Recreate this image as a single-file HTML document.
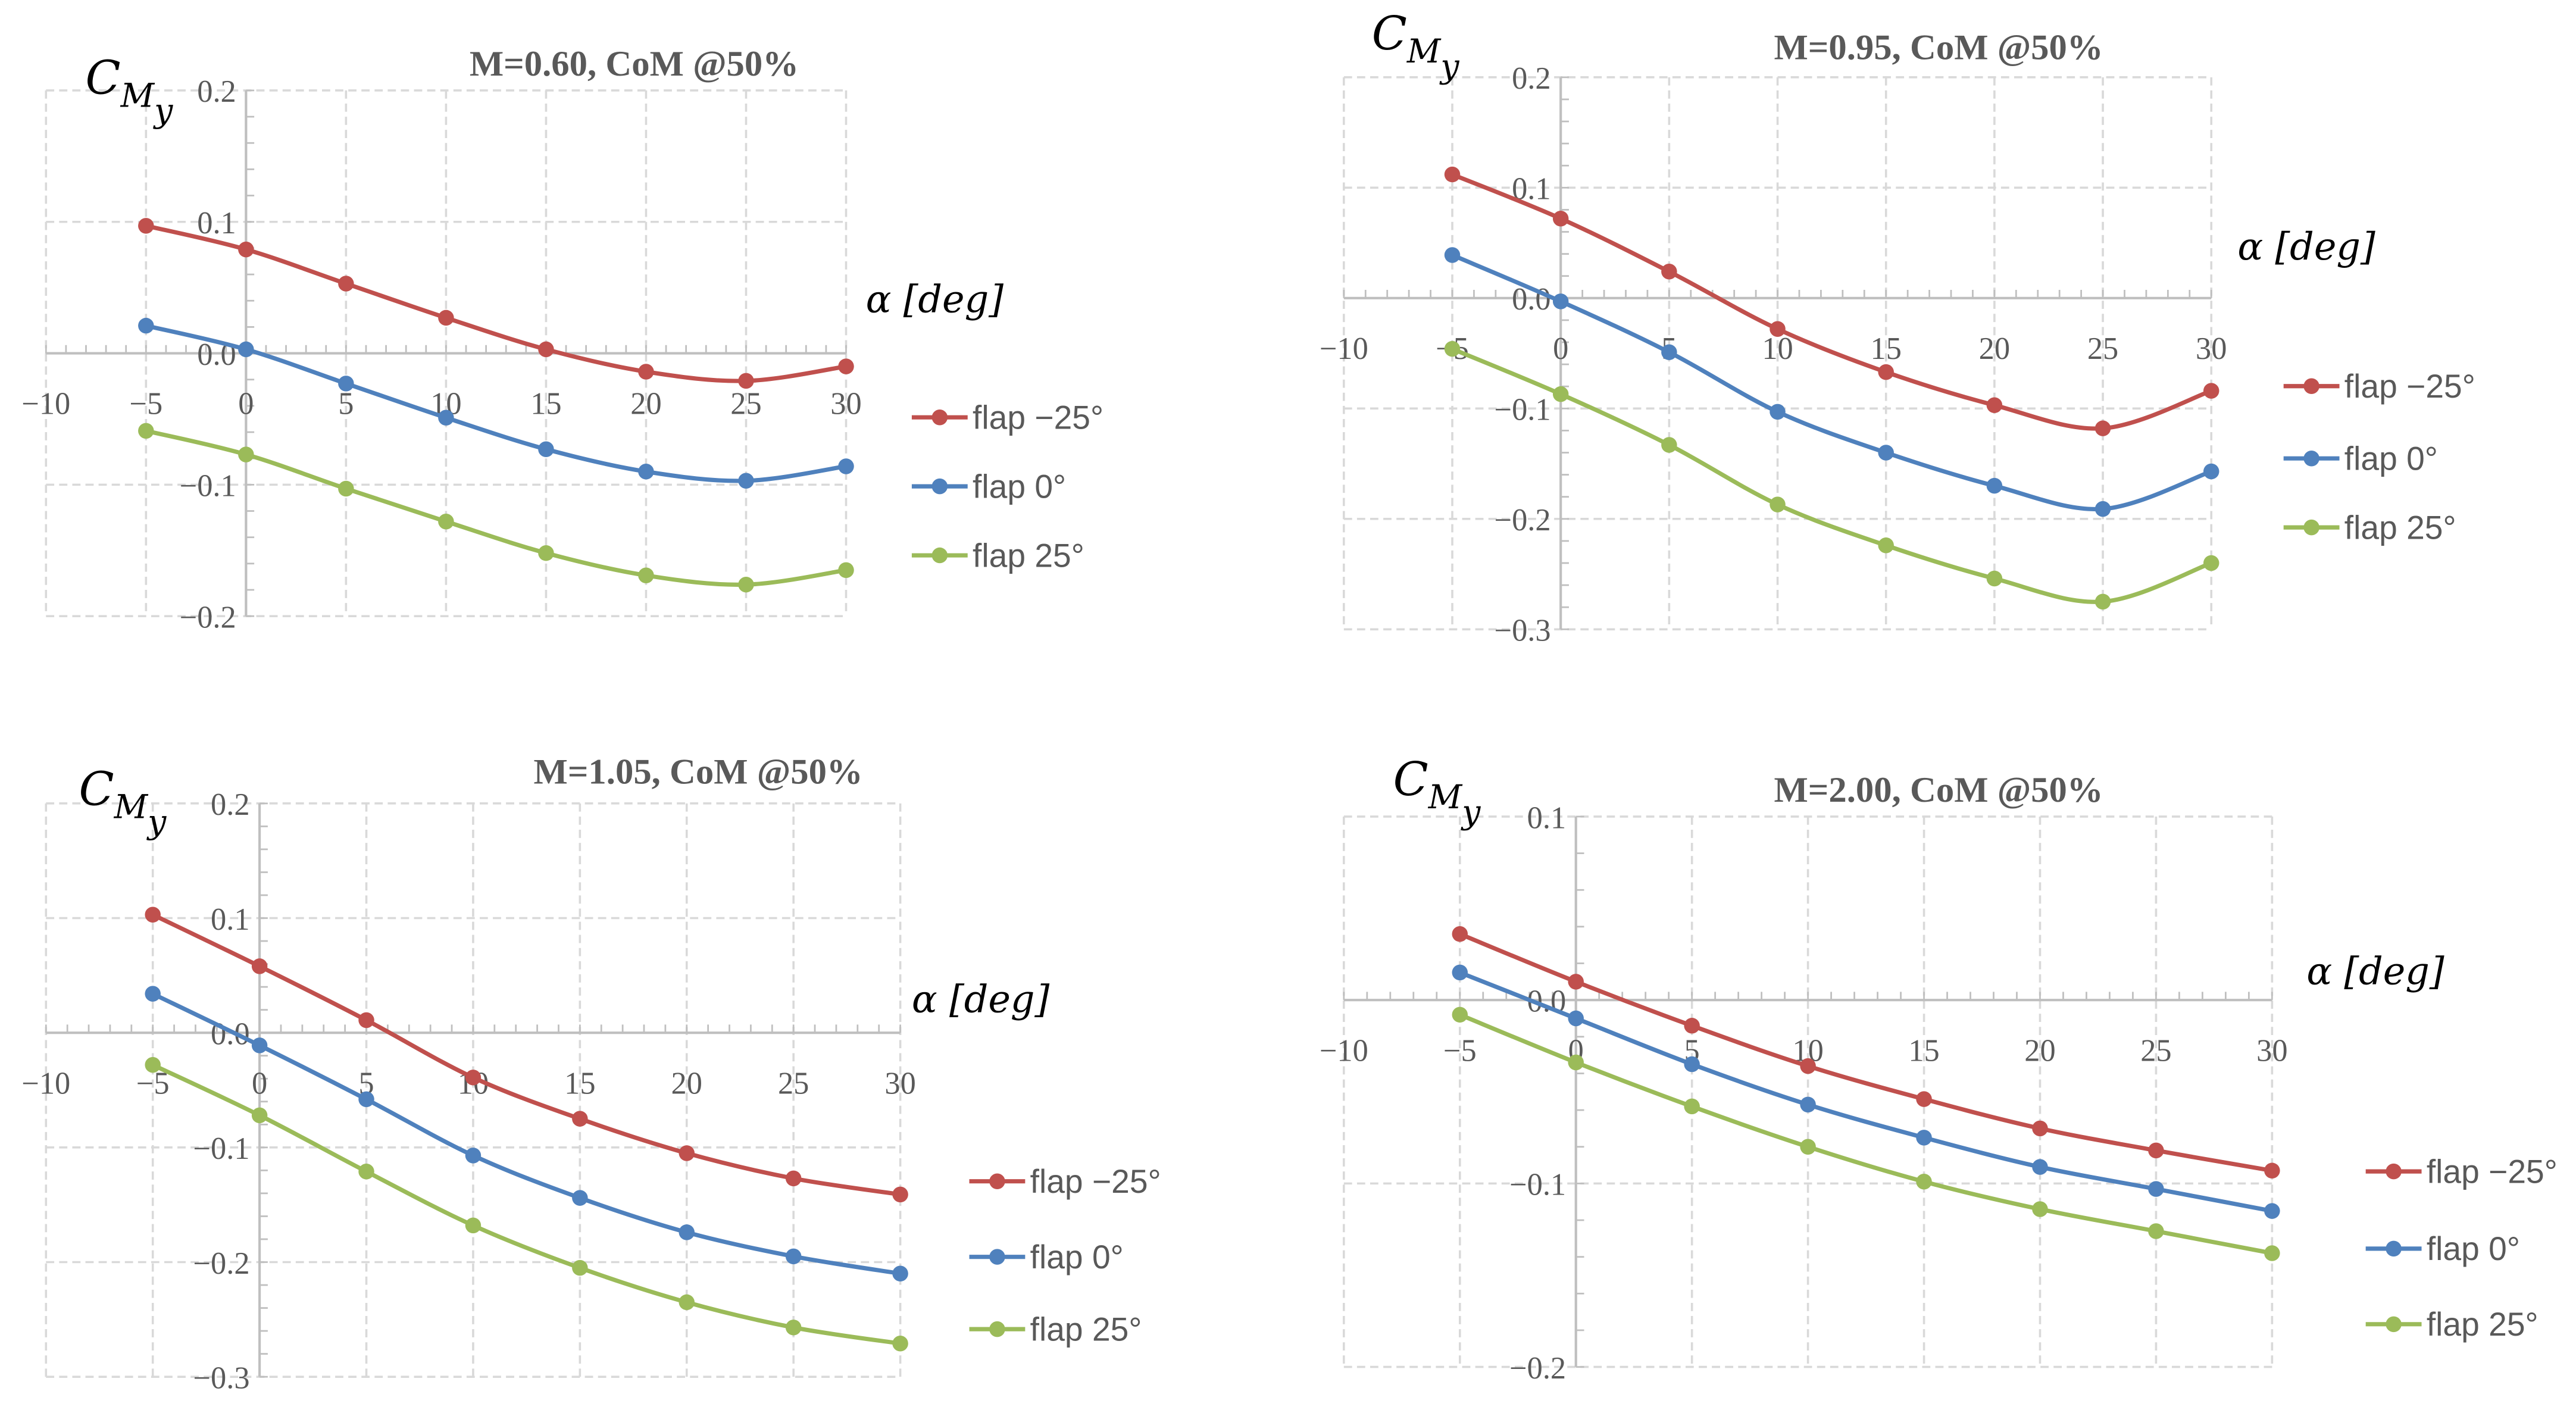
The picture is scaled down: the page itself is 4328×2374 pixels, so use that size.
<!DOCTYPE html>
<html><head><meta charset="utf-8"><style>
html,body{margin:0;padding:0;background:#fff;}
svg{display:block;}
</style></head><body>
<svg id="chart" width="4328" height="2374" viewBox="0 0 1568 860" xmlns="http://www.w3.org/2000/svg"></svg>
<script>
const alphas = [-5, 0, 5, 10, 15, 20, 25, 30];
const xTicks = [-10, -5, 0, 5, 10, 15, 20, 25, 30];
const seriesNames = ["flap \u221225\u00b0", "flap 0\u00b0", "flap 25\u00b0"];
const titles = ["M=0.60, CoM @50%", "M=0.95, CoM @50%", "M=1.05, CoM @50%", "M=2.00, CoM @50%"];
const yTicks1 = [0.2, 0.1, 0.0, -0.1, -0.2];
const yTicks2 = [0.2, 0.1, 0.0, -0.1, -0.2, -0.3];
const yTicks3 = [0.2, 0.1, 0.0, -0.1, -0.2, -0.3];
const yTicks4 = [0.1, 0.0, -0.1, -0.2];
const p1Red = [0.097, 0.079, 0.053, 0.027, 0.003, -0.014, -0.021, -0.010];
const p1Blue = [0.021, 0.003, -0.023, -0.049, -0.073, -0.090, -0.097, -0.086];
const p1Green = [-0.059, -0.077, -0.103, -0.128, -0.152, -0.169, -0.176, -0.165];
const p2Red = [0.112, 0.072, 0.024, -0.028, -0.067, -0.097, -0.118, -0.084];
const p2Blue = [0.039, -0.003, -0.049, -0.103, -0.140, -0.170, -0.191, -0.157];
const p2Green = [-0.046, -0.087, -0.133, -0.187, -0.224, -0.254, -0.275, -0.240];
const p3Red = [0.103, 0.058, 0.011, -0.039, -0.075, -0.105, -0.127, -0.141];
const p3Blue = [0.034, -0.011, -0.058, -0.107, -0.144, -0.174, -0.195, -0.210];
const p3Green = [-0.028, -0.072, -0.121, -0.168, -0.205, -0.235, -0.257, -0.271];
const p4Red = [0.036, 0.010, -0.014, -0.036, -0.054, -0.070, -0.082, -0.093];
const p4Blue = [0.015, -0.010, -0.035, -0.057, -0.075, -0.091, -0.103, -0.115];
const p4Green = [-0.008, -0.034, -0.058, -0.080, -0.099, -0.114, -0.126, -0.138];

const NS = "http://www.w3.org/2000/svg";
const svg = document.getElementById("chart");
const COLORS = ["#c0504d", "#4f81bd", "#9bbb59"];
function mk(tag, attrs, parent) {
  const e = document.createElementNS(NS, tag);
  for (const k in attrs) e.setAttribute(k, attrs[k]);
  parent.appendChild(e);
  return e;
}
function smoothPath(pts) {
  let d = "M" + pts[0][0] + "," + pts[0][1];
  for (let i = 0; i < pts.length - 1; i++) {
    const p0 = pts[i - 1] || pts[i], p1 = pts[i], p2 = pts[i + 1], p3 = pts[i + 2] || p2;
    const c1x = p1[0] + (p2[0] - p0[0]) / 6, c1y = p1[1] + (p2[1] - p0[1]) / 6;
    const c2x = p2[0] - (p3[0] - p1[0]) / 6, c2y = p2[1] - (p3[1] - p1[1]) / 6;
    d += " C" + c1x + "," + c1y + " " + c2x + "," + c2y + " " + p2[0] + "," + p2[1];
  }
  return d;
}
function drawPanel(cfg, idx) {
  const g = mk("g", {}, svg);
  
  
  const xs = v => cfg.x0 + (v - (-10)) / 40 * (cfg.x1 - cfg.x0);
  const yMax = cfg.yTicks[0], yMin = cfg.yTicks[cfg.yTicks.length - 1];
  const ys = v => cfg.yTop + (yMax - v) / (yMax - yMin) * (cfg.yBot - cfg.yTop);
  cfg.yTicks.forEach(t => {
    const gl = mk("line", {x1: cfg.x0, x2: cfg.x1, y1: ys(t), y2: ys(t), stroke: "#d9d9d9", "stroke-width": 1.3, "stroke-dasharray": "5,3"}, g);
    
    
  });
  xTicks.forEach(t => {
    const gl = mk("line", {x1: xs(t), x2: xs(t), y1: cfg.yTop, y2: cfg.yBot, stroke: "#d9d9d9", "stroke-width": 1.3, "stroke-dasharray": "5,3"}, g);
    
    
  });
  const xa = mk("line", {x1: cfg.x0, x2: cfg.x1, y1: ys(0), y2: ys(0), stroke: "#bfbfbf", "stroke-width": 1.5}, g);
  
  
  const ya = mk("line", {x1: xs(0), x2: xs(0), y1: cfg.yTop, y2: cfg.yBot, stroke: "#bfbfbf", "stroke-width": 1.5}, g);
  
  
  for (let v = -10; v <= 30; v += 1) {
    mk("line", {x1: xs(v), x2: xs(v), y1: ys(0) - 5, y2: ys(0), stroke: "#bfbfbf", "stroke-width": 1}, g);
  }
  const step = (yMax - yMin) / ((cfg.yTicks.length - 1) * 5);
  for (let v = yMin; v <= yMax + 1e-9; v += step) {
    mk("line", {x1: xs(0), x2: xs(0) + 5, y1: ys(v), y2: ys(v), stroke: "#bfbfbf", "stroke-width": 1}, g);
  }
  xTicks.forEach(t => {
    const tl = mk("text", {x: xs(t), y: ys(0) + 37, "text-anchor": "middle", "font-family": "Liberation Serif, serif", "font-size": 19, fill: "#595959"}, g);
    tl.textContent = t < 0 ? "\u2212" + (-t) : String(t);
    
    
  });
  cfg.yTicks.forEach(t => {
    const tl = mk("text", {x: xs(0) - 6, y: ys(t) + 7, "text-anchor": "end", "font-family": "Liberation Serif, serif", "font-size": 19, fill: "#595959"}, g);
    tl.textContent = t < 0 ? "\u2212" + (-t).toFixed(1) : t.toFixed(1);
    
    
  });
  const tt = mk("text", {x: cfg.titleX, y: cfg.titleY, "text-anchor": "middle", "font-family": "Liberation Serif, serif", "font-size": 22, "font-weight": "bold", fill: "#595959"}, g);
  tt.textContent = cfg.title;
  
  
  const yt = mk("text", {x: cfg.cmX, y: cfg.cmY, "font-family": "DejaVu Serif, serif", "font-style": "italic", "font-size": 28, fill: "#000"}, g);
  yt.innerHTML = 'C<tspan font-size="20" dy="8">M</tspan><tspan font-size="20" dy="9">y</tspan>';
  
  
  const xt = mk("text", {x: cfg.alX, y: cfg.alY, "font-family": "DejaVu Serif, serif", "font-style": "italic", "font-size": 23, fill: "#000"}, g);
  xt.textContent = "\u03b1 [deg]";
  
  
  cfg.series.forEach((vals, si) => {
    const pts = alphas.map((a, i) => [xs(a), ys(vals[i])]);
    const sg = mk("g", {}, g);
    
    
    mk("path", {d: smoothPath(pts), fill: "none", stroke: COLORS[si], "stroke-width": 2.6}, sg);
    pts.forEach(p => {
      const c = mk("circle", {cx: p[0], cy: p[1], r: 4.8, fill: COLORS[si]}, sg);
      
      
    });
    const ly = cfg.legY[si];
    const le = mk("g", {}, g);
    
    
    mk("line", {x1: cfg.legX, x2: cfg.legX + 34, y1: ly, y2: ly, stroke: COLORS[si], "stroke-width": 2.6}, le);
    mk("circle", {cx: cfg.legX + 17, cy: ly, r: 4.8, fill: COLORS[si]}, le);
    const lt = mk("text", {x: cfg.legX + 37, y: ly + 7, "font-family": "Liberation Sans, sans-serif", "font-size": 20, fill: "#595959"}, le);
    lt.textContent = seriesNames[si];
  });
}
const panels = [
  {x0: 28, x1: 515, yTop: 55, yBot: 375, yTicks: yTicks1, series: [p1Red, p1Blue, p1Green], title: titles[0], titleX: 386, titleY: 46, cmX: 52, cmY: 57, alX: 527, alY: 190, legX: 555, legY: [254, 296, 338]},
  {x0: 818, x1: 1346, yTop: 47, yBot: 383, yTicks: yTicks2, series: [p2Red, p2Blue, p2Green], title: titles[1], titleX: 1180, titleY: 36, cmX: 835, cmY: 30, alX: 1362, alY: 158, legX: 1390, legY: [235, 279, 321]},
  {x0: 28, x1: 548, yTop: 489, yBot: 838, yTicks: yTicks3, series: [p3Red, p3Blue, p3Green], title: titles[2], titleX: 425, titleY: 477, cmX: 48, cmY: 490, alX: 555, alY: 616, legX: 590, legY: [719, 765, 809]},
  {x0: 818, x1: 1383, yTop: 497, yBot: 832, yTicks: yTicks4, series: [p4Red, p4Blue, p4Green], title: titles[3], titleX: 1180, titleY: 488, cmX: 848, cmY: 484, alX: 1404, alY: 599, legX: 1440, legY: [713, 760, 806]}
];
panels.forEach((p, i) => drawPanel(p, i));
</script>
</body></html>
